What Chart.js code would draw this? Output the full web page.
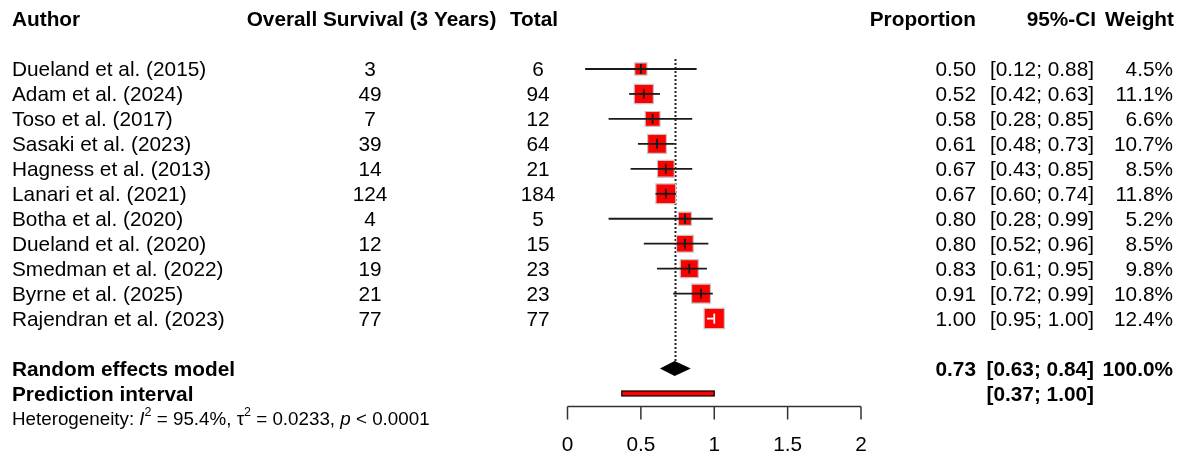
<!DOCTYPE html>
<html>
<head>
<meta charset="utf-8">
<script src="https://cdn.jsdelivr.net/npm/chart.js@4.4.1/dist/chart.umd.min.js"></script>
<style>
  html, body { margin: 0; padding: 0; background: #ffffff; }
  #wrap { position: relative; width: 1185px; height: 456px; }
</style>
</head>
<body>
<div id="wrap"><canvas id="forest"></canvas></div>
<script>
// Study-level data: 3-year overall survival
const authors = [
  'Dueland et al. (2015)', 'Adam et al. (2024)', 'Toso et al. (2017)',
  'Sasaki et al. (2023)', 'Hagness et al. (2013)', 'Lanari et al. (2021)',
  'Botha et al. (2020)', 'Dueland et al. (2020)', 'Smedman et al. (2022)',
  'Byrne et al. (2025)', 'Rajendran et al. (2023)'
];
const events = [3, 49, 7, 39, 14, 124, 4, 12, 19, 21, 77];
const totals = [6, 94, 12, 64, 21, 184, 5, 15, 23, 23, 77];
const proportions = [0.50, 0.52, 0.58, 0.61, 0.67, 0.67, 0.80, 0.80, 0.83, 0.91, 1.00];
const ciLower = [0.12, 0.42, 0.28, 0.48, 0.43, 0.60, 0.28, 0.52, 0.61, 0.72, 0.95];
const ciUpper = [0.88, 0.63, 0.85, 0.73, 0.85, 0.74, 0.99, 0.96, 0.95, 0.99, 1.00];
const weights = [4.5, 11.1, 6.6, 10.7, 8.5, 11.8, 5.2, 8.5, 9.8, 10.8, 12.4];

// Pooled estimate (random effects) and prediction interval
const pooledEstimate = [0.73];
const pooledCI = [0.63, 0.84];
const predictionInterval = [0.37, 1.00];
const pooledWeight = ['100.0%'];
const heterogeneity = { i2: '95.4%', tau2: '0.0233', p: '< 0.0001' };

// Axis ticks
const xTicks = [0, 0.5, 1, 1.5, 2];

const fmt2 = v => v.toFixed(2);

// Row layout (row index on the y scale)
const ROW_HEADER = -2;
const ROW_POOLED = authors.length + 1;
const ROW_PRED = authors.length + 2;
const ROW_HET = authors.length + 3;
const ROW_AXIS = authors.length + 2.5;

const FONT = '"Liberation Sans", Arial, sans-serif';
const FS = 20.8;
const TEXT_DY = 1.5;

const boxData = proportions.map((p, i) => ({ x: p, y: i }));
// square area proportional to study weight
const boxRadius = weights.map(w => 5.75 * Math.sqrt(w) / Math.SQRT2);

function text(ctx, str, x, y, align, bold, size) {
  ctx.font = (bold ? 'bold ' : '') + (size || FS) + 'px ' + FONT;
  ctx.textAlign = align;
  ctx.textBaseline = 'middle';
  ctx.fillStyle = '#000000';
  ctx.fillText(str, x, y + TEXT_DY);
}

const forestPlugin = {
  id: 'forestLayers',
  beforeDatasetsDraw(chart) {
    const ctx = chart.ctx;
    const xs = chart.scales.x, ys = chart.scales.y;
    // reference line at the pooled estimate (dotted)
    const xp = Math.round(xs.getPixelForValue(pooledEstimate[0])) + 0.5;
    ctx.save();
    ctx.strokeStyle = '#222222';
    ctx.lineWidth = 2;
    ctx.setLineDash([2, 2]);
    ctx.beginPath();
    ctx.moveTo(xp, ys.getPixelForValue(-0.4));
    ctx.lineTo(xp, ys.getPixelForValue(ROW_POOLED - 0.3));
    ctx.stroke();
    ctx.restore();
  },
  afterDatasetsDraw(chart) {
    const ctx = chart.ctx;
    const xs = chart.scales.x, ys = chart.scales.y;
    ctx.save();
    // confidence intervals and estimate ticks
    proportions.forEach((p, i) => {
      const y = ys.getPixelForValue(i);
      const x0 = xs.getPixelForValue(ciLower[i]);
      const x1 = xs.getPixelForValue(ciUpper[i]);
      const xm = xs.getPixelForValue(p);
      const half = boxRadius[i] * Math.SQRT1_2;
      const inside = x0 >= xm - half && x1 <= xm + half;
      ctx.strokeStyle = inside ? '#ffffff' : '#1a1a1a';
      ctx.lineWidth = 1.8;
      ctx.setLineDash([]);
      ctx.beginPath();
      ctx.moveTo(x0, y);
      ctx.lineTo(x1, y);
      ctx.stroke();
      ctx.beginPath();
      ctx.moveTo(xm, y - 5);
      ctx.lineTo(xm, y + 5);
      ctx.stroke();
    });

    // pooled diamond
    const yd = ys.getPixelForValue(ROW_POOLED);
    ctx.fillStyle = '#000000';
    ctx.beginPath();
    ctx.moveTo(xs.getPixelForValue(pooledCI[0]), yd);
    ctx.lineTo(xs.getPixelForValue(pooledEstimate[0]), yd - 7.5);
    ctx.lineTo(xs.getPixelForValue(pooledCI[1]), yd);
    ctx.lineTo(xs.getPixelForValue(pooledEstimate[0]), yd + 7.5);
    ctx.closePath();
    ctx.fill();

    // prediction interval bar
    const ypi = ys.getPixelForValue(ROW_PRED);
    const pa = xs.getPixelForValue(predictionInterval[0]);
    const pb = xs.getPixelForValue(predictionInterval[1]);
    ctx.fillStyle = '#ff0000';
    ctx.strokeStyle = '#000000';
    ctx.lineWidth = 1.2;
    ctx.fillRect(pa, ypi - 2.5, pb - pa, 5);
    ctx.strokeRect(pa, ypi - 2.5, pb - pa, 5);

    // x axis
    const ya = Math.round(ys.getPixelForValue(ROW_AXIS)) + 0.5;
    ctx.strokeStyle = '#333333';
    ctx.lineWidth = 1.5;
    ctx.beginPath();
    ctx.moveTo(xs.getPixelForValue(xTicks[0]), ya);
    ctx.lineTo(xs.getPixelForValue(xTicks[xTicks.length - 1]), ya);
    xTicks.forEach(t => {
      const xt = xs.getPixelForValue(t);
      ctx.moveTo(xt, ya);
      ctx.lineTo(xt, ya + 13);
    });
    ctx.stroke();
    xTicks.forEach(t => {
      text(ctx, String(t), xs.getPixelForValue(t), ya + 37, 'center', false);
    });

    // header row
    const yh = ys.getPixelForValue(ROW_HEADER);
    text(ctx, 'Author', 12, yh, 'left', true);
    text(ctx, 'Overall Survival (3 Years)', 371.5, yh, 'center', true);
    text(ctx, 'Total', 534, yh, 'center', true);
    text(ctx, 'Proportion', 976, yh, 'right', true);
    text(ctx, '95%-CI', 1096, yh, 'right', true);
    text(ctx, 'Weight', 1174, yh, 'right', true);

    // study rows
    authors.forEach((a, i) => {
      const y = ys.getPixelForValue(i);
      text(ctx, a, 12, y, 'left', false);
      text(ctx, String(events[i]), 370, y, 'center', false);
      text(ctx, String(totals[i]), 538, y, 'center', false);
      text(ctx, fmt2(proportions[i]), 976, y, 'right', false);
      text(ctx, '[' + fmt2(ciLower[i]) + '; ' + fmt2(ciUpper[i]) + ']', 1094, y, 'right', false);
      text(ctx, weights[i].toFixed(1) + '%', 1173, y, 'right', false);
    });

    // pooled rows
    text(ctx, 'Random effects model', 12, yd, 'left', true);
    text(ctx, fmt2(pooledEstimate[0]), 976, yd, 'right', true);
    text(ctx, '[' + fmt2(pooledCI[0]) + '; ' + fmt2(pooledCI[1]) + ']', 1094, yd, 'right', true);
    text(ctx, pooledWeight[0], 1173, yd, 'right', true);
    text(ctx, 'Prediction interval', 12, ypi, 'left', true);
    text(ctx, '[' + fmt2(predictionInterval[0]) + '; ' + fmt2(predictionInterval[1]) + ']', 1094, ypi, 'right', true);

    // heterogeneity line with italic symbols and superscripts
    const yhet = ys.getPixelForValue(ROW_HET) + TEXT_DY;
    const hs = 18.8, sup = 12.5;
    let cx = 12;
    const seg = (s, style, size, dy) => {
      ctx.font = (style || '') + ' ' + (size || hs) + 'px ' + FONT;
      ctx.textAlign = 'left';
      ctx.textBaseline = 'middle';
      ctx.fillStyle = '#000000';
      ctx.fillText(s, cx, yhet + (dy || 0));
      cx += ctx.measureText(s).width;
    };
    seg('Heterogeneity: ');
    seg('I', 'italic');
    seg('2', '', sup, -7);
    seg(' = ' + heterogeneity.i2 + ', ');
    seg('\u03c4');
    seg('2', '', sup, -7);
    seg(' = ' + heterogeneity.tau2 + ', ');
    seg('p', 'italic');
    seg(' ' + heterogeneity.p);
    ctx.restore();
  }
};

new Chart(document.getElementById('forest'), {
  type: 'scatter',
  data: {
    datasets: [{
      label: 'Proportion',
      data: boxData,
      pointStyle: 'rect',
      pointRadius: boxRadius,
      pointHoverRadius: boxRadius,
      backgroundColor: '#ff0000',
      borderColor: '#c4c4c4',
      borderWidth: 1.2
    }]
  },
  options: {
    responsive: true,
    maintainAspectRatio: false,
    animation: false,
    events: [],
    layout: { autoPadding: false, padding: { left: 567.5, right: 324, top: 0, bottom: 0 } },
    plugins: { legend: { display: false }, tooltip: { enabled: false } },
    scales: {
      x: { type: 'linear', min: 0, max: 2, display: false },
      y: { type: 'linear', min: -2.764, max: 15.505, reverse: true, display: false }
    }
  },
  plugins: [forestPlugin]
});
</script>
</body>
</html>
